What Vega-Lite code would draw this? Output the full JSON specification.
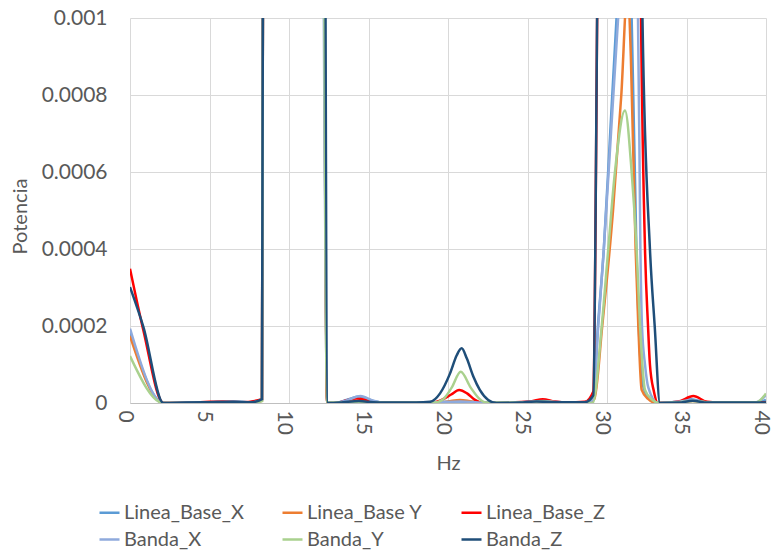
{
"$schema":"https://vega.github.io/schema/vega-lite/v6.json",
"width":636,"height":385,
"autosize":{"type":"none"},
"padding":{"left":130,"top":18,"right":9,"bottom":149},
"background":"white",
"config":{"view":{"stroke":null},"font":"Lato"},
"data":{"values":[
{"x":0,"s":"Linea_Base_X","p":0.000185},{"x":2.1,"s":"Linea_Base_X","p":0},{"x":3.5,"s":"Linea_Base_X","p":0.000001},{"x":5,"s":"Linea_Base_X","p":0.000002},{"x":6.5,"s":"Linea_Base_X","p":0.000003},{"x":7.6,"s":"Linea_Base_X","p":0.000002},{"x":8.3,"s":"Linea_Base_X","p":0.000008},{"x":8.5,"s":"Linea_Base_X","p":0.004},{"x":10.3,"s":"Linea_Base_X","p":0.05},{"x":12.0,"s":"Linea_Base_X","p":0.004},{"x":12.4,"s":"Linea_Base_X","p":0.000001},{"x":13.0,"s":"Linea_Base_X","p":0.000001},{"x":13.6,"s":"Linea_Base_X","p":0.000008},{"x":14.45,"s":"Linea_Base_X","p":0.000017},{"x":15.3,"s":"Linea_Base_X","p":0.000005},{"x":16.0,"s":"Linea_Base_X","p":0.000001},{"x":18.5,"s":"Linea_Base_X","p":0.000001},{"x":20.7,"s":"Linea_Base_X","p":0.000004},{"x":22.2,"s":"Linea_Base_X","p":0.000001},{"x":24.5,"s":"Linea_Base_X","p":0.000002},{"x":26.0,"s":"Linea_Base_X","p":0.000006},{"x":27.2,"s":"Linea_Base_X","p":0.000002},{"x":28.6,"s":"Linea_Base_X","p":0.000002},{"x":29.12,"s":"Linea_Base_X","p":0.000008},{"x":29.43,"s":"Linea_Base_X","p":0.0002},{"x":29.8,"s":"Linea_Base_X","p":0.0004},{"x":30.2,"s":"Linea_Base_X","p":0.0007},{"x":30.6,"s":"Linea_Base_X","p":0.001},{"x":31.1,"s":"Linea_Base_X","p":0.0013},{"x":31.55,"s":"Linea_Base_X","p":0.001},{"x":31.85,"s":"Linea_Base_X","p":0.0004},{"x":32.05,"s":"Linea_Base_X","p":0.00015},{"x":32.3,"s":"Linea_Base_X","p":0.00004},{"x":32.7,"s":"Linea_Base_X","p":0.00001},{"x":33.2,"s":"Linea_Base_X","p":0},{"x":34.5,"s":"Linea_Base_X","p":0.000003},{"x":35.3,"s":"Linea_Base_X","p":0.00001},{"x":36.2,"s":"Linea_Base_X","p":0.000002},{"x":38,"s":"Linea_Base_X","p":0.000001},{"x":39.5,"s":"Linea_Base_X","p":0.000002},{"x":40,"s":"Linea_Base_X","p":0.000008},
{"x":0,"s":"Linea_Base Y","p":0.000174},{"x":2.1,"s":"Linea_Base Y","p":0},{"x":3.5,"s":"Linea_Base Y","p":0.000001},{"x":5,"s":"Linea_Base Y","p":0.000002},{"x":6.5,"s":"Linea_Base Y","p":0.000002},{"x":7.6,"s":"Linea_Base Y","p":0.000002},{"x":8.3,"s":"Linea_Base Y","p":0.000006},{"x":8.5,"s":"Linea_Base Y","p":0.004},{"x":10.3,"s":"Linea_Base Y","p":0.05},{"x":12.0,"s":"Linea_Base Y","p":0.004},{"x":12.4,"s":"Linea_Base Y","p":0.000001},{"x":13.2,"s":"Linea_Base Y","p":0.000001},{"x":14.3,"s":"Linea_Base Y","p":0.000005},{"x":15.3,"s":"Linea_Base Y","p":0.000002},{"x":16.5,"s":"Linea_Base Y","p":0.000001},{"x":19.3,"s":"Linea_Base Y","p":0.000001},{"x":20.0,"s":"Linea_Base Y","p":0.000004},{"x":20.75,"s":"Linea_Base Y","p":0.0000078},{"x":21.5,"s":"Linea_Base Y","p":0.000004},{"x":22.4,"s":"Linea_Base Y","p":0.000001},{"x":24.5,"s":"Linea_Base Y","p":0.000001},{"x":26.0,"s":"Linea_Base Y","p":0.000004},{"x":27.2,"s":"Linea_Base Y","p":0.000001},{"x":28.6,"s":"Linea_Base Y","p":0.000001},{"x":29.2,"s":"Linea_Base Y","p":0.00001},{"x":29.7,"s":"Linea_Base Y","p":0.0002},{"x":30.38,"s":"Linea_Base Y","p":0.0005},{"x":30.9,"s":"Linea_Base Y","p":0.0008},{"x":31.3,"s":"Linea_Base Y","p":0.00108},{"x":31.5,"s":"Linea_Base Y","p":0.0009},{"x":31.8,"s":"Linea_Base Y","p":0.0004},{"x":31.97,"s":"Linea_Base Y","p":0.0002},{"x":32.18,"s":"Linea_Base Y","p":0.000034},{"x":32.6,"s":"Linea_Base Y","p":0.00001},{"x":33.13,"s":"Linea_Base Y","p":0},{"x":34.5,"s":"Linea_Base Y","p":0.000002},{"x":35.4,"s":"Linea_Base Y","p":0.000005},{"x":36.5,"s":"Linea_Base Y","p":0.000001},{"x":40,"s":"Linea_Base Y","p":0.000001},
{"x":0,"s":"Linea_Base_Z","p":0.000349},{"x":0.84,"s":"Linea_Base_Z","p":0.000189},{"x":2.1,"s":"Linea_Base_Z","p":0},{"x":3.5,"s":"Linea_Base_Z","p":0.000001},{"x":5,"s":"Linea_Base_Z","p":0.000003},{"x":5.8,"s":"Linea_Base_Z","p":0.000004},{"x":7.0,"s":"Linea_Base_Z","p":0.000002},{"x":8.3,"s":"Linea_Base_Z","p":0.00001},{"x":8.5,"s":"Linea_Base_Z","p":0.004},{"x":10.3,"s":"Linea_Base_Z","p":0.05},{"x":12.05,"s":"Linea_Base_Z","p":0.004},{"x":12.4,"s":"Linea_Base_Z","p":0},{"x":13.1,"s":"Linea_Base_Z","p":0.000001},{"x":13.6,"s":"Linea_Base_Z","p":0.000007},{"x":14.26,"s":"Linea_Base_Z","p":0.000012},{"x":15.0,"s":"Linea_Base_Z","p":0.000006},{"x":15.8,"s":"Linea_Base_Z","p":0.000001},{"x":18.97,"s":"Linea_Base_Z","p":0.000001},{"x":19.6,"s":"Linea_Base_Z","p":0.000008},{"x":20.2,"s":"Linea_Base_Z","p":0.000022},{"x":20.7,"s":"Linea_Base_Z","p":0.0000337},{"x":21.2,"s":"Linea_Base_Z","p":0.000025},{"x":21.7,"s":"Linea_Base_Z","p":0.000008},{"x":22.2,"s":"Linea_Base_Z","p":0},{"x":23.5,"s":"Linea_Base_Z","p":0.000001},{"x":25.2,"s":"Linea_Base_Z","p":0.000004},{"x":25.96,"s":"Linea_Base_Z","p":0.00001},{"x":26.7,"s":"Linea_Base_Z","p":0.000004},{"x":27.5,"s":"Linea_Base_Z","p":0.000001},{"x":28.6,"s":"Linea_Base_Z","p":0.000003},{"x":29.14,"s":"Linea_Base_Z","p":0.00003},{"x":29.42,"s":"Linea_Base_Z","p":0.0012},{"x":30.0,"s":"Linea_Base_Z","p":0.004},{"x":31.0,"s":"Linea_Base_Z","p":0.006},{"x":31.8,"s":"Linea_Base_Z","p":0.003},{"x":32.14,"s":"Linea_Base_Z","p":0.001},{"x":32.39,"s":"Linea_Base_Z","p":0.0004},{"x":32.58,"s":"Linea_Base_Z","p":0.0002},{"x":32.7,"s":"Linea_Base_Z","p":0.0001},{"x":32.95,"s":"Linea_Base_Z","p":0.00003},{"x":33.2,"s":"Linea_Base_Z","p":0},{"x":34.5,"s":"Linea_Base_Z","p":0.000004},{"x":35.43,"s":"Linea_Base_Z","p":0.000018},{"x":36.3,"s":"Linea_Base_Z","p":0.000003},{"x":37,"s":"Linea_Base_Z","p":0.000001},{"x":40,"s":"Linea_Base_Z","p":0.000001},
{"x":0,"s":"Banda_X","p":0.000193},{"x":2.1,"s":"Banda_X","p":0},{"x":3.5,"s":"Banda_X","p":0.000001},{"x":5,"s":"Banda_X","p":0.000002},{"x":6.5,"s":"Banda_X","p":0.000003},{"x":7.6,"s":"Banda_X","p":0.000002},{"x":8.3,"s":"Banda_X","p":0.000008},{"x":8.5,"s":"Banda_X","p":0.004},{"x":10.3,"s":"Banda_X","p":0.05},{"x":11.9,"s":"Banda_X","p":0.004},{"x":12.45,"s":"Banda_X","p":0.000001},{"x":13.0,"s":"Banda_X","p":0.000001},{"x":13.7,"s":"Banda_X","p":0.000008},{"x":14.5,"s":"Banda_X","p":0.000018},{"x":15.3,"s":"Banda_X","p":0.000006},{"x":16.0,"s":"Banda_X","p":0.000001},{"x":18.5,"s":"Banda_X","p":0.000001},{"x":20.8,"s":"Banda_X","p":0.000004},{"x":22.2,"s":"Banda_X","p":0.000001},{"x":24.5,"s":"Banda_X","p":0.000002},{"x":26.0,"s":"Banda_X","p":0.000005},{"x":27.2,"s":"Banda_X","p":0.000002},{"x":28.6,"s":"Banda_X","p":0.000002},{"x":29.12,"s":"Banda_X","p":0.000008},{"x":29.45,"s":"Banda_X","p":0.0002},{"x":29.8,"s":"Banda_X","p":0.0004},{"x":30.25,"s":"Banda_X","p":0.0007},{"x":30.7,"s":"Banda_X","p":0.001},{"x":31.3,"s":"Banda_X","p":0.0014},{"x":31.95,"s":"Banda_X","p":0.001},{"x":32.1,"s":"Banda_X","p":0.0004},{"x":32.2,"s":"Banda_X","p":0.0002},{"x":32.39,"s":"Banda_X","p":0.0001},{"x":32.6,"s":"Banda_X","p":0.00004},{"x":33.2,"s":"Banda_X","p":0},{"x":34.5,"s":"Banda_X","p":0.000003},{"x":35.3,"s":"Banda_X","p":0.000008},{"x":36.2,"s":"Banda_X","p":0.000002},{"x":38,"s":"Banda_X","p":0.000001},{"x":39.4,"s":"Banda_X","p":0.000002},{"x":40,"s":"Banda_X","p":0.00002},
{"x":0,"s":"Banda_Y","p":0.000122},{"x":2.1,"s":"Banda_Y","p":0},{"x":3.5,"s":"Banda_Y","p":0},{"x":5,"s":"Banda_Y","p":0.000001},{"x":6.5,"s":"Banda_Y","p":0.000002},{"x":7.6,"s":"Banda_Y","p":0.000001},{"x":8.3,"s":"Banda_Y","p":0.000005},{"x":8.5,"s":"Banda_Y","p":0.004},{"x":10.3,"s":"Banda_Y","p":0.05},{"x":12.0,"s":"Banda_Y","p":0.004},{"x":12.4,"s":"Banda_Y","p":0.000001},{"x":13.2,"s":"Banda_Y","p":0.000001},{"x":14.4,"s":"Banda_Y","p":0.000003},{"x":15.5,"s":"Banda_Y","p":0.000001},{"x":19.1,"s":"Banda_Y","p":0.000001},{"x":19.7,"s":"Banda_Y","p":0.00001},{"x":20.23,"s":"Banda_Y","p":0.00004},{"x":20.8,"s":"Banda_Y","p":0.000081},{"x":21.43,"s":"Banda_Y","p":0.00004},{"x":22.0,"s":"Banda_Y","p":0.00001},{"x":22.45,"s":"Banda_Y","p":0.000001},{"x":24.5,"s":"Banda_Y","p":0.000001},{"x":26.0,"s":"Banda_Y","p":0.000004},{"x":27.2,"s":"Banda_Y","p":0.000001},{"x":28.6,"s":"Banda_Y","p":0.000001},{"x":29.1,"s":"Banda_Y","p":0},{"x":29.67,"s":"Banda_Y","p":0.0002},{"x":30.08,"s":"Banda_Y","p":0.0004},{"x":30.5,"s":"Banda_Y","p":0.0006},{"x":31.13,"s":"Banda_Y","p":0.00076},{"x":31.55,"s":"Banda_Y","p":0.0006},{"x":31.86,"s":"Banda_Y","p":0.0004},{"x":32.08,"s":"Banda_Y","p":0.0002},{"x":32.39,"s":"Banda_Y","p":0.000034},{"x":32.8,"s":"Banda_Y","p":0.00001},{"x":33.33,"s":"Banda_Y","p":0},{"x":34.5,"s":"Banda_Y","p":0.000002},{"x":35.4,"s":"Banda_Y","p":0.000005},{"x":36.5,"s":"Banda_Y","p":0.000001},{"x":39.4,"s":"Banda_Y","p":0.000002},{"x":40,"s":"Banda_Y","p":0.000025},
{"x":0,"s":"Banda_Z","p":0.000301},{"x":0.84,"s":"Banda_Z","p":0.000198},{"x":2.1,"s":"Banda_Z","p":0},{"x":3.5,"s":"Banda_Z","p":0.000001},{"x":5,"s":"Banda_Z","p":0.000002},{"x":6.5,"s":"Banda_Z","p":0.000003},{"x":7.6,"s":"Banda_Z","p":0.000002},{"x":8.3,"s":"Banda_Z","p":0.00001},{"x":8.5,"s":"Banda_Z","p":0.004},{"x":10.3,"s":"Banda_Z","p":0.05},{"x":12.1,"s":"Banda_Z","p":0.004},{"x":12.45,"s":"Banda_Z","p":0},{"x":12.8,"s":"Banda_Z","p":0},{"x":13.4,"s":"Banda_Z","p":0.000002},{"x":14.4,"s":"Banda_Z","p":0.000005},{"x":15.3,"s":"Banda_Z","p":0.000002},{"x":16,"s":"Banda_Z","p":0.000001},{"x":18.0,"s":"Banda_Z","p":0.000001},{"x":18.87,"s":"Banda_Z","p":0.000003},{"x":19.5,"s":"Banda_Z","p":0.000025},{"x":20.13,"s":"Banda_Z","p":0.000077},{"x":20.55,"s":"Banda_Z","p":0.000124},{"x":20.86,"s":"Banda_Z","p":0.000142},{"x":21.18,"s":"Banda_Z","p":0.000116},{"x":21.6,"s":"Banda_Z","p":0.000068},{"x":22.0,"s":"Banda_Z","p":0.000034},{"x":22.53,"s":"Banda_Z","p":0.000008},{"x":23.06,"s":"Banda_Z","p":0},{"x":24.5,"s":"Banda_Z","p":0.000001},{"x":25.58,"s":"Banda_Z","p":0.000004},{"x":26.5,"s":"Banda_Z","p":0.000002},{"x":28.6,"s":"Banda_Z","p":0.000002},{"x":29.14,"s":"Banda_Z","p":0.00002},{"x":29.42,"s":"Banda_Z","p":0.0012},{"x":30.5,"s":"Banda_Z","p":0.005},{"x":31.5,"s":"Banda_Z","p":0.006},{"x":32.23,"s":"Banda_Z","p":0.001},{"x":32.7,"s":"Banda_Z","p":0.0004},{"x":33.0,"s":"Banda_Z","p":0.0002},{"x":33.33,"s":"Banda_Z","p":0},{"x":34.5,"s":"Banda_Z","p":0.000001},{"x":35.4,"s":"Banda_Z","p":0.000006},{"x":36.3,"s":"Banda_Z","p":0.000001},{"x":40,"s":"Banda_Z","p":0.000001}
]},
"mark":{"type":"line","interpolate":"monotone","clip":true,"strokeWidth":2.5},
"encoding":{
"x":{"field":"x","type":"quantitative","scale":{"domain":[0,40],"nice":false,"zero":false},
 "axis":{"values":[0,5,10,15,20,25,30,35,40],"title":"Hz","grid":true,"gridColor":"#D9D9D9","gridWidth":1,"domainColor":"#BFBFBF","domainWidth":1,"ticks":false,"tickSize":0,"labelAngle":90,"labelAlign":"left","labelBaseline":"middle","labelOffset":-6,"labelPadding":7,"labelFont":"Lato","labelFontSize":21,"labelColor":"#595959","titleFont":"Lato","titleFontSize":20,"titleFontWeight":"normal","titleColor":"#595959","titleY":60,"titleBaseline":"middle"}},
"y":{"field":"p","type":"quantitative","scale":{"domain":[0,0.001],"nice":false},
 "axis":{"values":[0,0.0002,0.0004,0.0006,0.0008,0.001],"format":".4~f","title":"Potencia","grid":true,"gridColor":"#D9D9D9","gridWidth":1,"domain":false,"ticks":false,"tickSize":0,"labelPadding":23,"labelFont":"Lato","labelFontSize":21,"labelColor":"#595959","titleFont":"Lato","titleFontSize":20,"titleFontWeight":"normal","titleColor":"#595959","titleX":-110,"titleY":198,"titleAngle":-90,"titleAlign":"center","titleBaseline":"middle"}},
"color":{"field":"s","type":"nominal","scale":{"domain":["Linea_Base_X","Linea_Base Y","Linea_Base_Z","Banda_X","Banda_Y","Banda_Z"],"range":["#5B9BD5","#ED7D31","#FF0000","#8FAADC","#A9D18E","#1F4E79"]},
 "legend":{"orient":"none","legendX":-32,"legendY":483,"direction":"horizontal","columns":3,"columnPadding":33,"rowPadding":5,"symbolType":"stroke","symbolStrokeWidth":2.5,"symbolSize":400,"labelFont":"Lato","labelFontSize":20,"labelColor":"#595959","labelOffset":3,"title":null}}
}
}
